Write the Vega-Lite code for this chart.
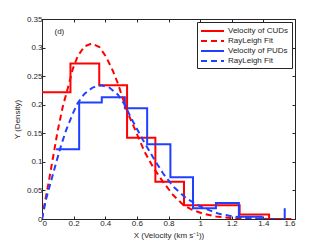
{
  "$schema": "https://vega.github.io/schema/vega-lite/v6.json",
  "width": 253,
  "height": 200,
  "autosize": {"type": "none"},
  "padding": {"left": 42, "top": 19, "right": 32, "bottom": 27},
  "background": "white",
  "config": {
    "view": {"stroke": "#262626", "strokeWidth": 1},
    "font": "Liberation Sans",
    "axis": {
      "grid": false,
      "domainColor": "#262626",
      "tickColor": "#262626",
      "labelColor": "#262626",
      "titleColor": "#262626",
      "labelFontSize": 8,
      "titleFontSize": 8,
      "titleFontWeight": "normal",
      "tickSize": -3,
      "labelPadding": 3,
      "tickWidth": 1
    },
    "legend": {
      "orient": "top-right",
      "offset": 3,
      "strokeColor": "#262626",
      "fillColor": "white",
      "padding": 3,
      "symbolType": "M-1,0H3.6",
      "symbolSize": 100,
      "symbolStrokeWidth": 2,
      "symbolFillColor": "transparent",
      "labelOffset": 16,
      "labelFontSize": 8,
      "labelColor": "#262626",
      "rowPadding": 0
    }
  },
  "datasets": {
    "curves": [
      {"s": "a", "x": 0, "y": 0.222},
      {"s": "a", "x": 0.18, "y": 0.272},
      {"s": "a", "x": 0.362, "y": 0.234},
      {"s": "a", "x": 0.538, "y": 0.142},
      {"s": "a", "x": 0.717, "y": 0.065},
      {"s": "a", "x": 0.898, "y": 0.024},
      {"s": "a", "x": 1.075, "y": 0.024},
      {"s": "a", "x": 1.25, "y": 0.008},
      {"s": "a", "x": 1.436, "y": 0},
      {"s": "c", "x": 0.089, "y": 0.122},
      {"s": "c", "x": 0.235, "y": 0.204},
      {"s": "c", "x": 0.378, "y": 0.213},
      {"s": "c", "x": 0.524, "y": 0.194},
      {"s": "c", "x": 0.665, "y": 0.131},
      {"s": "c", "x": 0.812, "y": 0.073},
      {"s": "c", "x": 0.955, "y": 0.019},
      {"s": "c", "x": 1.1, "y": 0.028},
      {"s": "c", "x": 1.245, "y": 0.004},
      {"s": "c", "x": 1.39, "y": 0},
      {"s": "c", "x": 1.535, "y": 0.019},
      {"s": "b", "x": 0, "y": 0},
      {"s": "b", "x": 0.015, "y": 0.024},
      {"s": "b", "x": 0.047, "y": 0.072},
      {"s": "b", "x": 0.068, "y": 0.105},
      {"s": "b", "x": 0.099, "y": 0.154},
      {"s": "b", "x": 0.131, "y": 0.196},
      {"s": "b", "x": 0.173, "y": 0.239},
      {"s": "b", "x": 0.194, "y": 0.262},
      {"s": "b", "x": 0.226, "y": 0.285},
      {"s": "b", "x": 0.268, "y": 0.302},
      {"s": "b", "x": 0.314, "y": 0.307},
      {"s": "b", "x": 0.363, "y": 0.301},
      {"s": "b", "x": 0.405, "y": 0.284},
      {"s": "b", "x": 0.447, "y": 0.26},
      {"s": "b", "x": 0.479, "y": 0.238},
      {"s": "b", "x": 0.51, "y": 0.212},
      {"s": "b", "x": 0.542, "y": 0.186},
      {"s": "b", "x": 0.586, "y": 0.158},
      {"s": "b", "x": 0.65, "y": 0.117},
      {"s": "b", "x": 0.702, "y": 0.091},
      {"s": "b", "x": 0.765, "y": 0.065},
      {"s": "b", "x": 0.829, "y": 0.042},
      {"s": "b", "x": 0.892, "y": 0.025},
      {"s": "b", "x": 0.95, "y": 0.016},
      {"s": "b", "x": 1.018, "y": 0.0095},
      {"s": "b", "x": 1.1, "y": 0.0045},
      {"s": "b", "x": 1.2, "y": 0.0015},
      {"s": "b", "x": 1.3, "y": 0.0004},
      {"s": "b", "x": 1.45, "y": 0},
      {"s": "b", "x": 1.6, "y": 0},
      {"s": "d", "x": 0, "y": 0},
      {"s": "d", "x": 0.025, "y": 0.034},
      {"s": "d", "x": 0.057, "y": 0.066},
      {"s": "d", "x": 0.089, "y": 0.098},
      {"s": "d", "x": 0.12, "y": 0.128},
      {"s": "d", "x": 0.152, "y": 0.155},
      {"s": "d", "x": 0.194, "y": 0.184},
      {"s": "d", "x": 0.226, "y": 0.203},
      {"s": "d", "x": 0.268, "y": 0.219},
      {"s": "d", "x": 0.32, "y": 0.23},
      {"s": "d", "x": 0.373, "y": 0.234},
      {"s": "d", "x": 0.426, "y": 0.23},
      {"s": "d", "x": 0.479, "y": 0.218},
      {"s": "d", "x": 0.523, "y": 0.2},
      {"s": "d", "x": 0.565, "y": 0.176},
      {"s": "d", "x": 0.639, "y": 0.138},
      {"s": "d", "x": 0.702, "y": 0.108},
      {"s": "d", "x": 0.765, "y": 0.08},
      {"s": "d", "x": 0.829, "y": 0.057},
      {"s": "d", "x": 0.913, "y": 0.036},
      {"s": "d", "x": 1.0, "y": 0.022},
      {"s": "d", "x": 1.06, "y": 0.015},
      {"s": "d", "x": 1.12, "y": 0.009},
      {"s": "d", "x": 1.206, "y": 0.0045},
      {"s": "d", "x": 1.31, "y": 0.0015},
      {"s": "d", "x": 1.42, "y": 0.0003}
    ],
    "notes": [{"label": "(d)", "x": 0.11, "y": 0.328}]
  },
  "layer": [
    {
      "data": {"name": "curves"},
      "transform": [{"filter": "datum.s == 'a' || datum.s == 'c'"}],
      "mark": {"type": "line", "interpolate": "step-after", "strokeWidth": 2, "clip": true},
      "encoding": {
        "x": {"field": "x", "type": "quantitative", "scale": {"domain": [0, 1.6], "nice": false},
              "axis": {"values": [0, 0.2, 0.4, 0.6, 0.8, 1, 1.2, 1.4, 1.6], "format": "~g", "title": "X (Velocity (km s⁻¹))", "titlePadding": 4}},
        "y": {"field": "y", "type": "quantitative", "scale": {"domain": [0, 0.35], "nice": false},
              "axis": {"values": [0, 0.05, 0.1, 0.15, 0.2, 0.25, 0.3, 0.35], "format": "~g", "title": "Y (Density)", "titlePadding": 5}},
        "color": {"field": "s", "type": "nominal",
                  "scale": {"domain": ["a", "b", "c", "d"], "range": ["#ff0000", "#ff0000", "#2040ff", "#2040ff"]},
                  "legend": {"title": null,
                             "labelExpr": "datum.label == 'a' ? 'Velocity of CUDs' : datum.label == 'c' ? 'Velocity of PUDs' : 'RayLeigh Fit'"}},
        "strokeDash": {"field": "s", "type": "nominal",
                       "scale": {"domain": ["a", "b", "c", "d"], "range": [[1, 0], [6, 4], [1, 0], [6, 4]]},
                       "legend": {"title": null,
                             "labelExpr": "datum.label == 'a' ? 'Velocity of CUDs' : datum.label == 'c' ? 'Velocity of PUDs' : 'RayLeigh Fit'"}}
      }
    },
    {
      "data": {"name": "curves"},
      "transform": [{"filter": "datum.s == 'b' || datum.s == 'd'"}],
      "mark": {"type": "line", "strokeWidth": 2, "clip": true},
      "encoding": {
        "x": {"field": "x", "type": "quantitative", "axis": null},
        "y": {"field": "y", "type": "quantitative", "axis": null},
        "color": {"field": "s", "type": "nominal"},
        "strokeDash": {"field": "s", "type": "nominal"}
      }
    },
    {
      "data": {"name": "notes"},
      "mark": {"type": "text", "fontSize": 8, "color": "#262626"},
      "encoding": {
        "x": {"field": "x", "type": "quantitative",
              "axis": {"orient": "top", "values": [0, 0.2, 0.4, 0.6, 0.8, 1, 1.2, 1.4, 1.6], "labels": false, "title": null, "domain": false}},
        "y": {"field": "y", "type": "quantitative",
              "axis": {"orient": "right", "values": [0, 0.05, 0.1, 0.15, 0.2, 0.25, 0.3, 0.35], "labels": false, "title": null, "domain": false}},
        "text": {"field": "label"}
      }
    }
  ],
  "resolve": {"axis": {"x": "independent", "y": "independent"}}
}
